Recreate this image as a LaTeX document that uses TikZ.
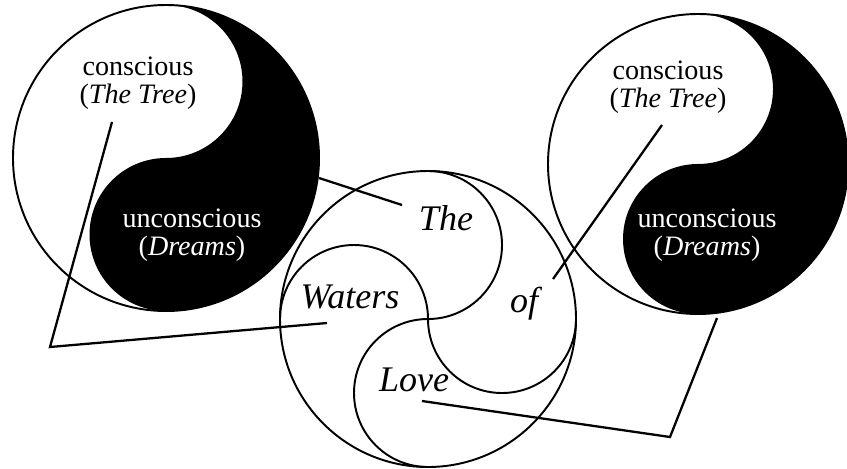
\documentclass[tikz,border=0pt]{standalone}
\usepackage{fontspec}
\setmainfont{Liberation Serif}
\begin{document}
\begin{tikzpicture}[x=0.02cm, y=0.02cm, line width=1.1pt]
    \tikzstyle{smallword} = [font=\fontsize{16}{16}\selectfont, align=center, inner sep=0pt]
    \tikzstyle{darkword} = [smallword, text=white]
    \tikzstyle{bigword} = [font=\fontsize{20.5}{20.5}\selectfont\itshape, inner sep=0pt]
    \tikzstyle{line} = [draw, line width=1.3pt]

    \useasboundingbox (0,0) rectangle (847,468);

    % left yin-yang
    \fill (166,463) arc[start angle=90, end angle=-90, radius=153]
        arc[start angle=-90, end angle=-270, radius=76.5]
        arc[start angle=-90, end angle=90, radius=76.5] -- cycle;
    \draw (166,310) circle[radius=153];

    % right yin-yang
    \fill (698,454) arc[start angle=90, end angle=-90, radius=150]
        arc[start angle=-90, end angle=-270, radius=75]
        arc[start angle=-90, end angle=90, radius=75] -- cycle;
    \draw (698,304) circle[radius=150];

    % middle circle, four lobes
    \draw (428,149) circle[radius=148];
    \draw (428,149) arc[start angle=0, end angle=180, radius=74];
    \draw (428,149) arc[start angle=180, end angle=360, radius=74];
    \draw (428,149) arc[start angle=-90, end angle=90, radius=74];
    \draw (428,149) arc[start angle=90, end angle=270, radius=74];

    \node [smallword] (lconscious) at (138,385) {conscious\\(\textit{The Tree})};
    \node [darkword] (lunconscious) at (192,233) {unconscious\\(\textit{Dreams})};
    \node [smallword] (rconscious) at (668,381) {conscious\\(\textit{The Tree})};
    \node [darkword] (runconscious) at (707,233) {unconscious\\(\textit{Dreams})};

    \node [bigword] (the) at (446,250) {The};
    \node [bigword] (waters) at (350,171) {Waters};
    \node [bigword] (of) at (524,164) {of};
    \node [bigword] (love) at (414,88) {Love};

    \coordinate (theend) at (402,263);
    \coordinate (ledge) at (319,290);
    \coordinate (ltreetip) at (112,346);
    \coordinate (lbend) at (50,121);
    \coordinate (watersend) at (327,145);
    \coordinate (rtreetip) at (662,343);
    \coordinate (ofend) at (553,189);
    \coordinate (rdreamtip) at (717,150);
    \coordinate (rbend) at (670,31);
    \coordinate (loveend) at (422,67);

    \draw [line] (theend) -- (ledge);
    \draw [line] (ltreetip) -- (lbend) -- (watersend);
    \draw [line] (rtreetip) -- (ofend);
    \draw [line] (rdreamtip) -- (rbend) -- (loveend);
\end{tikzpicture}
\end{document}
